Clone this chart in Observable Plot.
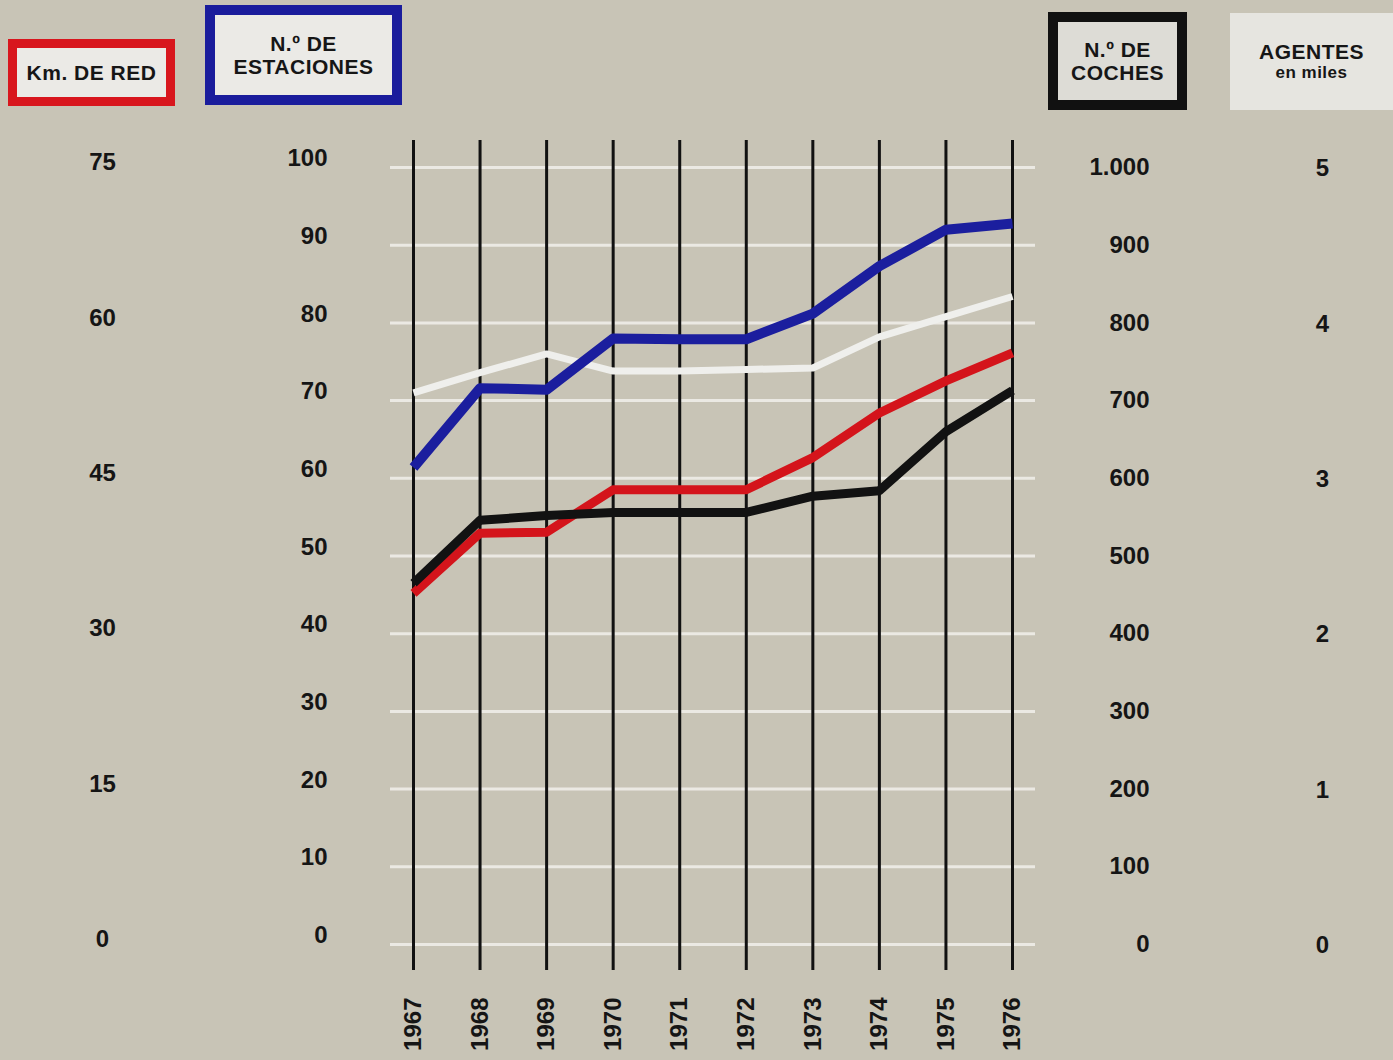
<!DOCTYPE html>
<html><head><meta charset="utf-8">
<script src="https://cdn.jsdelivr.net/npm/d3@7"></script>
<script src="https://cdn.jsdelivr.net/npm/@observablehq/plot@0.6"></script>
<style>
body{margin:0;background:#c8c4b6;font-family:"Liberation Sans",Arial,sans-serif;font-weight:bold;}
#wrap{position:relative;width:1393px;height:1060px;overflow:hidden;background:#c8c4b6;}
#head{position:relative;height:115px;}
.box{position:absolute;box-sizing:border-box;display:flex;flex-direction:column;align-items:center;justify-content:center;text-align:center;color:#161616;font-size:21px;line-height:23px;letter-spacing:0.5px;}
#chart svg{display:block;}
</style></head>
<body><div id="wrap">
<div id="head">
  <div class="box" style="left:8px;top:39px;width:167px;height:67px;border:9px solid #d8161d;background:#ebeae6;">Km. DE RED</div>
  <div class="box" style="left:205px;top:5px;width:197px;height:100px;border:10px solid #1a1c9c;background:#ebeae6;"><span>N.º DE</span><span>ESTACIONES</span></div>
  <div class="box" style="left:1048px;top:12px;width:139px;height:98px;border:10px solid #111;background:#dddcd6;"><span>N.º DE</span><span>COCHES</span></div>
  <div class="box" style="left:1230px;top:13px;width:163px;height:97px;background:#e6e5e0;"><span>AGENTES</span><span style="font-size:17px;line-height:20px;">en miles</span></div>
</div>
<div id="chart"></div>
</div>
<script>
const years = [1967,1968,1969,1970,1971,1972,1973,1974,1975,1976];
const kmRed = [33.9,39.7,39.8,43.9,43.9,43.9,47.0,51.3,54.4,57.1];
const estaciones = [61.4,71.6,71.4,78.0,77.9,77.9,81.2,87.3,92.0,92.8];
const coches = [465,546,552,556,556,556,577,584,660,713];
const agentes = [3.55,3.68,3.80,3.69,3.69,3.70,3.71,3.91,4.04,4.17];

const kmTicks = [0,15,30,45,60,75];
const estTicks = [0,10,20,30,40,50,60,70,80,90,100];
const cochesTicks = [0,100,200,300,400,500,600,700,800,900,1000];
const agentesTicks = [0,1,2,3,4,5];

const kmMax = 75, estMax = 100, cochesMax = 1000, agentesMax = 5;

const rows = (vals, max) => years.map((yr, i) => ({year: yr, v: vals[i] / max * 100}));

const fmtThousands = d => {
  const s = String(Math.round(d));
  return s.length > 3 ? s.slice(0, s.length - 3) + "." + s.slice(-3) : s;
};

const font = {fontFamily: "Liberation Sans, Arial, sans-serif", fontWeight: "bold", fontSize: 24, fill: "#151515", label: null};

const chart = Plot.plot({
  width: 1393,
  height: 945,
  marginTop: 25,
  marginBottom: 90,
  marginLeft: 390,
  marginRight: 358,
  style: {background: "transparent", fontFamily: "Liberation Sans, Arial, sans-serif"},
  x: {type: "linear", domain: [1967, 1976], insetLeft: 23, insetRight: 23, axis: null, label: null},
  y: {domain: [0, 100], insetTop: 27, insetBottom: 26, axis: null, label: null},
  marks: [
    Plot.ruleY(estTicks, {y: d => d, stroke: "#eeede8", strokeWidth: 3, strokeOpacity: 0.9}),
    Plot.ruleX(years, {x: d => d, stroke: "#111", strokeWidth: 3}),
    Plot.axisX(years, {anchor: "bottom", tickSize: 0, tickPadding: 27, tickRotate: -90, tickFormat: d => String(d), ...font}),
    Plot.axisY(kmTicks.map(d => d / kmMax * 100), {anchor: "left", tickSize: 0, tickPadding: 288, textAnchor: "middle", dy: -5, tickFormat: d => String(Math.round(d * kmMax / 100)), ...font}),
    Plot.axisY(estTicks.map(d => d / estMax * 100), {anchor: "left", tickSize: 0, tickPadding: 63, dy: -9, tickFormat: d => String(Math.round(d * estMax / 100)), ...font}),
    Plot.axisY(cochesTicks.map(d => d / cochesMax * 100), {anchor: "right", tickSize: 0, tickPadding: 114, textAnchor: "end", dy: 0, tickFormat: d => fmtThousands(d * cochesMax / 100), ...font}),
    Plot.axisY(agentesTicks.map(d => d / agentesMax * 100), {anchor: "right", tickSize: 0, tickPadding: 287, textAnchor: "middle", dy: 1, tickFormat: d => String(Math.round(d * agentesMax / 100)), ...font}),
    Plot.line(rows(agentes, agentesMax), {x: "year", y: "v", stroke: "#efefec", strokeWidth: 7, strokeLinejoin: "round", strokeLinecap: "butt"}),
    Plot.line(rows(kmRed, kmMax), {x: "year", y: "v", stroke: "#d4141b", strokeWidth: 9, strokeLinejoin: "round", strokeLinecap: "butt"}),
    Plot.line(rows(coches, cochesMax), {x: "year", y: "v", stroke: "#121212", strokeWidth: 9, strokeLinejoin: "round", strokeLinecap: "butt"}),
    Plot.line(rows(estaciones, estMax), {x: "year", y: "v", stroke: "#1b1e9e", strokeWidth: 10, strokeLinejoin: "round", strokeLinecap: "butt"})
  ]
});
document.getElementById("chart").appendChild(chart);
</script>
</body></html>
